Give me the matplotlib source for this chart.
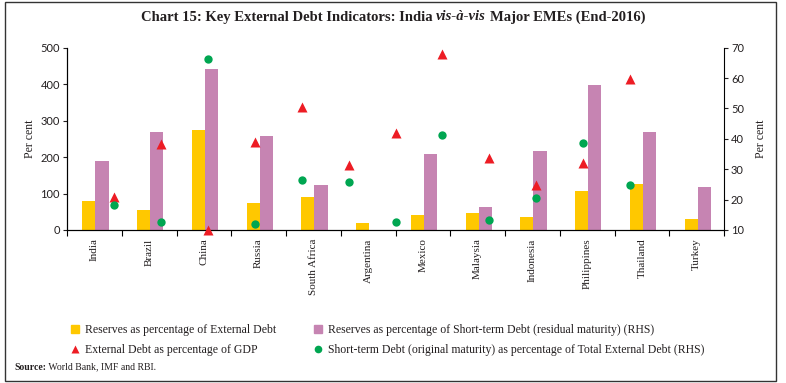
import matplotlib
matplotlib.use("Agg")
import matplotlib.pyplot as plt
import numpy as np
from matplotlib.patches import Rectangle, Patch
from matplotlib.lines import Line2D

# data
countries = ["India", "Brazil", "China", "Russia", "South Africa", "Argentina",
             "Mexico", "Malaysia", "Indonesia", "Philippines", "Thailand", "Turkey"]
res_ext_debt = [80, 55, 275, 75, 91, 19, 41, 47, 37, 108, 126, 29]
res_st_debt = [190, 270, 442, 259, 123, 0, 208, 62, 218, 398, 268, 119]
ext_debt_gdp = [20.8, 38.2, 10.1, 38.9, 50.5, 31.5, 41.8, 68.0, 33.8, 24.8, 32.0, 59.6]
st_debt_share = [18.3, 12.5, 66.3, 12.1, 26.4, 25.7, 12.6, 41.3, 13.2, 20.5, 38.6, 24.8]

labels = ["Reserves as percentage of External Debt",
          "External Debt as percentage of GDP",
          "Reserves as percentage of Short-term Debt (residual maturity) (RHS)",
          "Short-term Debt (original maturity) as percentage of Total External Debt (RHS)"]

yellow = "#FFC800"
purple = "#C684B2"
red = "#ED1C24"
green = "#00A651"
txt = "#231F20"
num_font = "Lato"

plt.rcParams['font.family'] = ['Liberation Serif', 'DejaVu Serif']

fig = plt.figure(figsize=(7.86, 3.83), dpi=100)
W, H = 786, 383

# main axes (bars, left scale)
ax = fig.add_axes([67 / W, 1 - 230 / H, (724 - 67) / W, (230 - 47.7) / H])
x = np.arange(len(countries))
ax.bar(x - 0.10, res_ext_debt, width=0.24, color=yellow)
ax.bar(x + 0.14, res_st_debt, width=0.24, color=purple)
ax.set_xlim(-0.5, 11.5)
ax.set_ylim(0, 500)
ax.set_yticks(range(0, 501, 100))
for t in ax.get_yticklabels():
    t.set_fontfamily(num_font)
ax.tick_params(axis='y', labelsize=8, length=3, width=0.8, colors=txt, pad=2)
ax.set_xticks(np.arange(-0.5, 12, 1))
ax.set_xticklabels([])
ax.set_xticks(x, minor=True)
ax.set_xticklabels(countries, minor=True, rotation=90, fontsize=8, color=txt)
ax.tick_params(axis='x', which='minor', length=0, pad=6)
ax.tick_params(axis='x', which='major', length=4, width=0.8)
ax.spines['top'].set_visible(False)
ax.spines['right'].set_visible(False)
ax.set_ylabel("Per cent", fontsize=8.5, color=txt, labelpad=3)

# right scale
ax2 = ax.twinx()
ax2.set_ylim(10, 70)
ax2.set_yticks(range(10, 71, 10))
for t in ax2.get_yticklabels():
    t.set_fontfamily(num_font)
ax2.tick_params(axis='y', labelsize=8, length=3, width=0.8, colors=txt, pad=2)
ax2.spines['top'].set_visible(False)
ax2.set_ylabel("Per cent", fontsize=8.5, color=txt, labelpad=8)

# markers sit on their own evenly spaced category scale
ax3 = ax2.twiny()
ax3.set_xlim(-1, 13)
ax3.plot(range(12), ext_debt_gdp, '^', color=red, ms=7.5, mec='none', clip_on=False)
ax3.plot(range(12), st_debt_share, 'o', color=green, ms=6, mec='none', clip_on=False)
ax3.set_xticks([])
for s in ax3.spines.values():
    s.set_visible(False)

# legend
handles = [Patch(color=yellow),
           Line2D([], [], marker='^', color=red, ls='none', ms=6, mec='none'),
           Patch(color=purple),
           Line2D([], [], marker='o', color=green, ls='none', ms=5.5, mec='none')]
fig.legend(handles, labels, loc='center left', bbox_to_anchor=(60 / W, 1 - 340 / H),
           ncol=2, frameon=False, fontsize=8.5, handlelength=0.7, handleheight=0.7,
           handletextpad=0.5, columnspacing=3.2, labelspacing=0.65, labelcolor=txt)

# title in pieces (italic middle part)
fig.canvas.draw()
r = fig.canvas.get_renderer()
pieces = [("Chart 15: Key External Debt Indicators: India", 'normal'),
          ("vis-à-vis", 'italic'),
          ("Major EMEs (End-2016)", 'normal')]
arts = [fig.text(0, 1 - 17 / H, p, fontsize=10.5, fontweight='bold', style=s,
                 va='center', color=txt) for p, s in pieces]
widths = [a.get_window_extent(r).width for a in arts]
gap = 3.5
xpos = 393 - (sum(widths) + 2 * gap) / 2
for a, w in zip(arts, widths):
    a.set_x(xpos / W)
    xpos += w + gap

s1 = fig.text(14 / W, 1 - 367 / H, "Source:", fontsize=7, fontweight='bold', va='center', color=txt)
w1 = s1.get_window_extent(r).width
fig.text((14 + w1) / W, 1 - 367 / H, " World Bank, IMF and RBI.", fontsize=7, va='center', color=txt)

# outer frame
fig.patches.append(Rectangle((5 / W, 2 / H), (776 - 5) / W, (381 - 2) / H,
                             transform=fig.transFigure, fill=False, lw=1, edgecolor='#333333'))

fig.savefig("out.png", dpi=100)
